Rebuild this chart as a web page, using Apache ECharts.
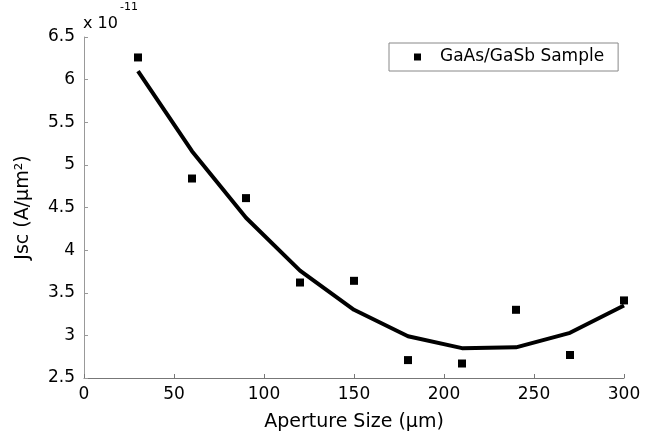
<!DOCTYPE html>
<html>
<head>
<meta charset="utf-8">
<script src="https://cdn.jsdelivr.net/npm/echarts@6/dist/echarts.min.js"></script>
<style>
html,body{margin:0;padding:0;background:#fff;}
#chart{width:657px;height:441px;}
</style>
</head>
<body>
<div id="chart"></div>
<script>
// Aperture sizes (µm)
const apertureSizes = [30, 60, 90, 120, 150, 180, 210, 240, 270, 300];
// Measured Jsc values (x 1e-11 A/µm²)
const measuredJsc = [6.26, 4.84, 4.61, 3.62, 3.64, 2.71, 2.67, 3.30, 2.77, 3.41];
// Fitted curve values (x 1e-11 A/µm²)
const fitJsc = [6.10, 5.16, 4.38, 3.76, 3.30, 2.99, 2.85, 2.86, 3.03, 3.35];
const seriesName = 'GaAs/GaSb Sample';
const xTitle = 'Aperture Size (µm)';
const yTitle = 'Jsc (A/µm²)';

const FONT = '"DejaVu Sans", Verdana, sans-serif';
const chart = echarts.init(document.getElementById('chart'), null, {renderer: 'canvas'});
const scatterData = apertureSizes.map((x, i) => [x, measuredJsc[i]]);
const lineData = apertureSizes.map((x, i) => [x, fitJsc[i]]);

chart.setOption({
  animation: false,
  backgroundColor: '#fff',
  grid: {left: 84, right: 33, top: 37, bottom: 63, containLabel: false},
  xAxis: {
    type: 'value', min: 0, max: 300, interval: 50,
    name: xTitle, nameLocation: 'middle', nameGap: 35,
    nameTextStyle: {fontFamily: FONT, fontSize: 19, color: '#000'},
    axisLine: {show: true, lineStyle: {color: '#777', width: 1}},
    axisTick: {show: true, inside: true, length: 4, lineStyle: {color: '#777'}},
    axisLabel: {fontFamily: FONT, fontSize: 17, color: '#000', margin: 8},
    splitLine: {show: false}
  },
  yAxis: {
    type: 'value', min: 2.5, max: 6.5, interval: 0.5,
    name: yTitle, nameLocation: 'middle', nameGap: 51,
    nameTextStyle: {fontFamily: FONT, fontSize: 19, color: '#000'},
    axisLine: {show: true, lineStyle: {color: '#999', width: 1}},
    axisTick: {show: true, inside: true, length: 4, lineStyle: {color: '#999'}},
    axisLabel: {fontFamily: FONT, fontSize: 17, color: '#000', margin: 9},
    splitLine: {show: false}
  },
  legend: {
    data: [{name: seriesName, icon: 'rect', itemStyle: {color: '#000', opacity: 1}}],
    left: 389, top: 43,
    orient: 'vertical',
    padding: [5, 14, 5, 25],
    itemWidth: 7, itemHeight: 7,
    borderColor: '#888', borderWidth: 1,
    textStyle: {fontFamily: FONT, fontSize: 17, color: '#000', lineHeight: 18, padding: [0, 0, 0, 14]}
  },
  graphic: [
    {type: 'text', left: 83, top: 16, style: {text: 'x 10', font: '16px ' + FONT, fill: '#000'}},
    {type: 'text', left: 120, top: 2, style: {text: '-11', font: '11px ' + FONT, fill: '#000'}}
  ],
  series: [
    {
      name: 'fit', type: 'line', data: lineData, showSymbol: false, symbol: 'none',
      lineStyle: {color: '#000', width: 4}, smooth: false, z: 2
    },
    {
      name: seriesName, type: 'scatter', data: scatterData,
      symbol: 'rect', symbolSize: 8, itemStyle: {color: '#000', opacity: 1}, z: 3
    }
  ]
});
</script>
</body>
</html>
